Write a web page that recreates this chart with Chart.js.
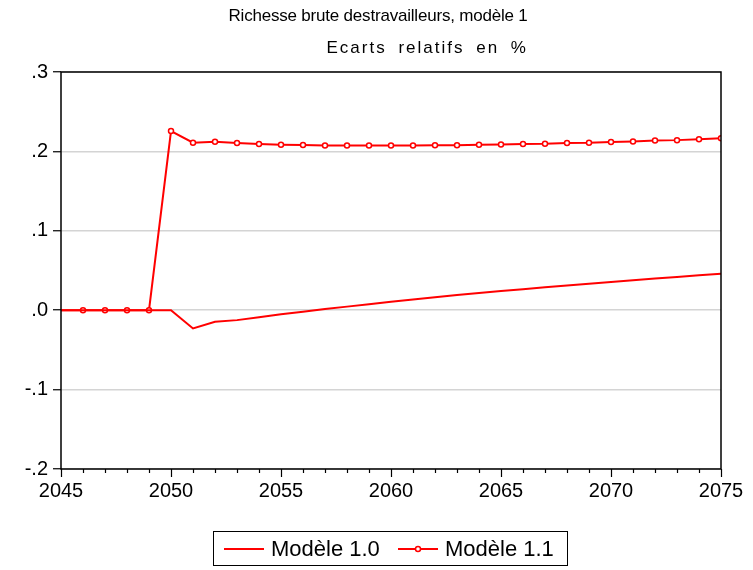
<!DOCTYPE html>
<html>
<head>
<meta charset="utf-8">
<script src="https://cdn.jsdelivr.net/npm/chart.js@4.4.0/dist/chart.umd.min.js"></script>
<style>
  body { margin: 0; background: #fff; font-family: "Liberation Sans", Arial, sans-serif; }
  #wrap { position: relative; width: 753px; height: 570px; }
  #c { position: absolute; left: 0; top: 0; }
  .title { position: absolute; font-size: 17px; color: #000; white-space: nowrap; line-height: 20px; }
  #t1 { letter-spacing: -0.2px; }
  #t2 { letter-spacing: 2px; word-spacing: 5px; }
  #legend { position: absolute; left: 213px; top: 531px; width: 355px; height: 35px; border: 1.5px solid #000; box-sizing: border-box; font-size: 22px; }
  .item { position: absolute; top: 4px; line-height: 26px; }
  .item svg { position: absolute; top: 5px; }
</style>
</head>
<body>
<div id="wrap">
  <canvas id="c" width="753" height="570"></canvas>
  <div class="title" id="t1" style="top:6px;">Richesse brute destravailleurs, modèle 1</div>
  <div class="title" id="t2" style="top:38px;">Ecarts relatifs en %</div>
  <div id="legend">
    <div class="item" style="left:10px;">
      <svg width="40" height="16"><line x1="0" y1="8" x2="40" y2="8" stroke="#ff0000" stroke-width="2"/></svg>
      <span style="position:absolute;left:47px;">Modèle&nbsp;1.0</span>
    </div>
    <div class="item" style="left:184px;">
      <svg width="40" height="16"><line x1="0" y1="8" x2="40" y2="8" stroke="#ff0000" stroke-width="2"/><circle cx="20" cy="8" r="2.5" fill="#fff" stroke="#ff0000" stroke-width="1.5"/></svg>
      <span style="position:absolute;left:47px;">Modèle&nbsp;1.1</span>
    </div>
  </div>
</div>
<script>
const years = [];
for (let y = 2045; y <= 2075; y++) years.push(y);

const modele10 = [0, 0, 0, 0, 0, 0, -0.023, -0.0145, -0.0125, -0.009, -0.005, -0.002, 0.0015,
  0.0045, 0.0075, 0.0105, 0.0135, 0.0163, 0.019, 0.0216, 0.0241, 0.0265, 0.0289, 0.0312,
  0.0334, 0.0356, 0.0377, 0.0398, 0.0419, 0.0439, 0.0459];

const modele11 = [0, 0, 0, 0, 0, 0.2256, 0.2109, 0.212, 0.2105, 0.2092, 0.2083, 0.208, 0.2075,
  0.2075, 0.2075, 0.2075, 0.2075, 0.2078, 0.2078, 0.2083, 0.2088, 0.2094, 0.2096, 0.2105,
  0.2108, 0.2118, 0.2125, 0.2137, 0.2142, 0.2154, 0.2167];

const yTicks = [-0.2, -0.1, 0, 0.1, 0.2, 0.3];
const yTickLabels = ['-.2', '-.1', '.0', '.1', '.2', '.3'];

// position the two title lines
function placeTitle(id, center) {
  const el = document.getElementById(id);
  el.style.left = (center - el.offsetWidth / 2) + 'px';
}
placeTitle('t1', 378);
placeTitle('t2', 427);

// frame + x ticks (major every 5 years, minor every year)
const framePlugin = {
  id: 'frame',
  afterDraw(chart) {
    const { ctx, chartArea: a, scales: { x } } = chart;
    ctx.save();
    ctx.strokeStyle = '#000';
    ctx.lineWidth = 1.5;
    ctx.strokeRect(a.left, a.top, a.right - a.left, a.bottom - a.top);
    ctx.lineWidth = 1.2;
    for (const yr of years) {
      const px = Math.round(x.getPixelForValue(yr)) + 0.5;
      const len = yr % 5 === 0 ? 8 : 4;
      ctx.beginPath();
      ctx.moveTo(px, a.bottom);
      ctx.lineTo(px, a.bottom + len);
      ctx.stroke();
    }
    ctx.restore();
  }
};

new Chart(document.getElementById('c'), {
  type: 'line',
  data: {
    labels: years,
    datasets: [
      {
        label: 'Modèle 1.0',
        data: years.map((yr, i) => ({ x: yr, y: modele10[i] })),
        borderColor: '#ff0000',
        borderWidth: 2,
        pointRadius: 0,
        tension: 0
      },
      {
        label: 'Modèle 1.1',
        data: years.map((yr, i) => ({ x: yr, y: modele11[i] })),
        borderColor: '#ff0000',
        borderWidth: 2,
        pointRadius: ctx => ctx.dataIndex === 0 ? 0 : 2.5,
        pointBorderWidth: 1.5,
        pointBackgroundColor: '#fff',
        pointBorderColor: '#ff0000',
        tension: 0,
        clip: 0
      }
    ]
  },
  options: {
    responsive: false,
    animation: false,
    layout: { padding: { top: 72, right: 32, left: 0, bottom: 61 } },
    plugins: {
      legend: { display: false },
      title: { display: false },
      tooltip: { enabled: false }
    },
    scales: {
      x: {
        type: 'linear',
        min: 2045,
        max: 2075,
        afterBuildTicks: s => { s.ticks = [2045, 2050, 2055, 2060, 2065, 2070, 2075].map(v => ({ value: v })); },
        ticks: {
          color: '#000',
          font: { family: '"Liberation Sans", Arial', size: 20 },
          padding: 2,
          maxRotation: 0,
          callback: v => String(v)
        },
        grid: { display: true, drawOnChartArea: false, tickLength: 8, tickColor: 'rgba(0,0,0,0)' },
        border: { display: false },
        afterFit: s => { s.height = 40; s.paddingLeft = 0; s.paddingRight = 0; }
      },
      y: {
        min: -0.2,
        max: 0.3,
        afterBuildTicks: s => { s.ticks = yTicks.map(v => ({ value: v })); },
        ticks: {
          color: '#000',
          font: { family: '"Liberation Sans", Arial', size: 20 },
          padding: 5,
          callback: (v, i) => yTickLabels[i]
        },
        grid: {
          color: '#d4d4d4',
          lineWidth: 1.5,
          tickLength: 8,
          tickColor: '#000',
          tickWidth: 1.2
        },
        border: { display: false },
        afterFit: s => { s.width = 61; s.paddingTop = 0; s.paddingBottom = 0; }
      }
    }
  },
  plugins: [framePlugin]
});
</script>
</body>
</html>
